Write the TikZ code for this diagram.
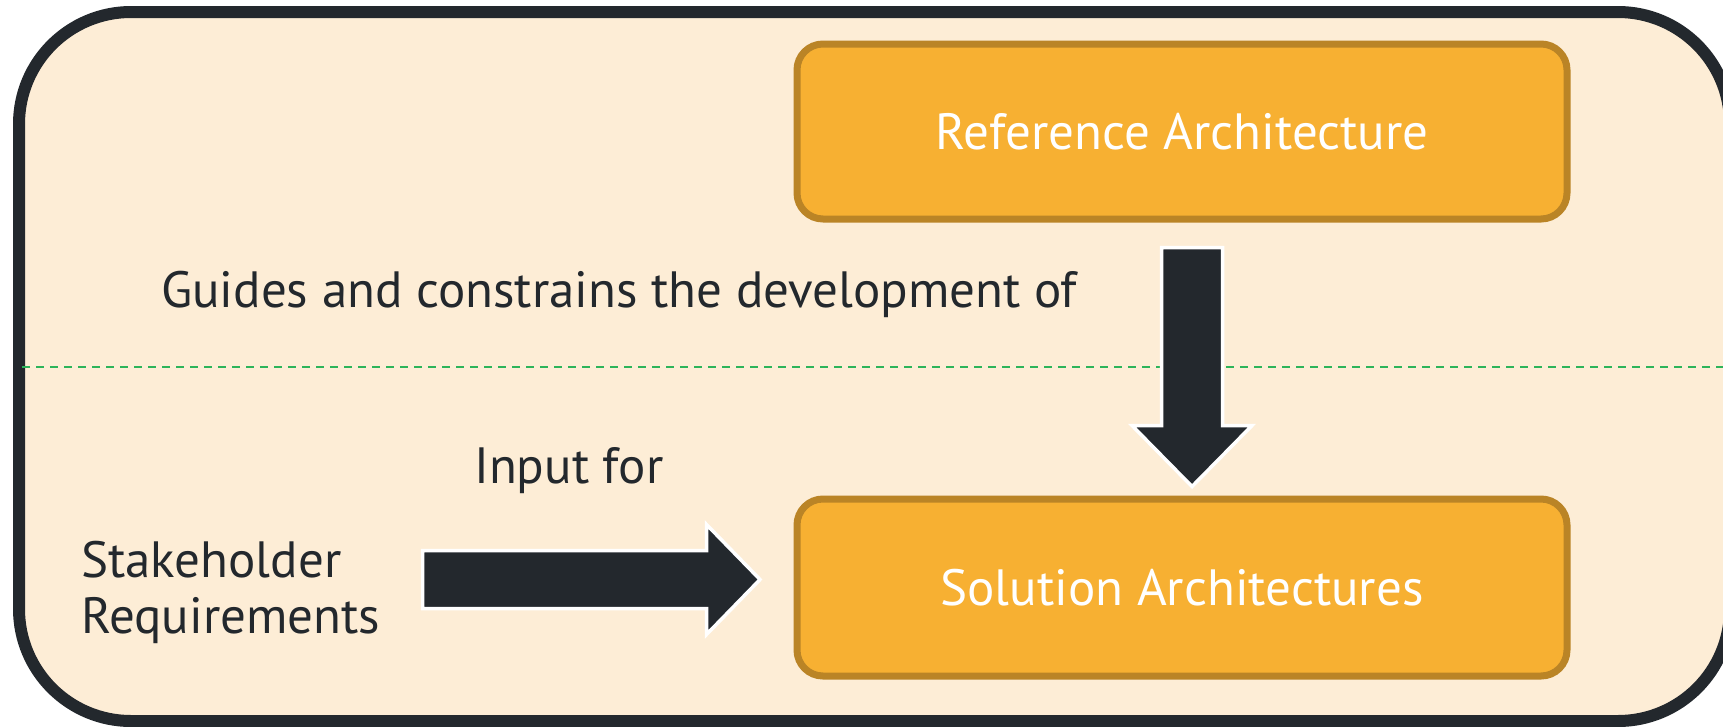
\documentclass[tikz,border=0pt]{standalone}
\usepackage{fontspec}
\setmainfont{PT Sans}
\definecolor{bgfill}{HTML}{FDEDD6}
\definecolor{darkc}{HTML}{23282D}
\definecolor{boxfill}{HTML}{F7B032}
\definecolor{boxdraw}{HTML}{BA8426}
\definecolor{dashgreen}{HTML}{2DB45A}
\tikzset{
  archbox/.style={draw=boxdraw, fill=boxfill, line width=7pt, rounded corners=26pt},
  boxtext/.style={text=white, font=\fontsize{51}{56}\selectfont, inner sep=0pt},
  plaintext/.style={text=darkc, font=\fontsize{51}{56}\selectfont, inner sep=0pt},
  blockarrow/.style={fill=darkc, draw=white, line width=3.5pt, line join=miter},
}
\begin{document}
\begin{tikzpicture}[x=1pt, y=-1pt]
\clip (0,0) rectangle (1723,726);
% outer container
\draw[draw=darkc, fill=bgfill, line width=12pt, rounded corners=112pt] (19,12) rectangle (1730,721);
% dashed separator
\draw[dashgreen, line width=2pt, dash pattern=on 8pt off 6pt] (22,367) -- (1723,367);
% boxes
\draw[archbox] (797,44) rectangle (1567,219);
\draw[archbox] (797,499) rectangle (1567,676);
\node[boxtext] (ref) at (1182,131.5) {Reference Architecture};
\node[boxtext] (sol) at (1182,587.5) {Solution Architectures};
% labels
\node[plaintext, anchor=base west] (guides) at (161,307) {Guides and constrains the development of};
\node[plaintext, anchor=base west] (input) at (474,483) {Input for};
\node[plaintext, anchor=base west, align=left] (stake) at (81,633) {Stakeholder\\Requirements};
% block arrows
\coordinate (downtip) at (1192,486.5);
\coordinate (righttip) at (760,579.5);
\draw[blockarrow] (1161.5,247.5) -- (1222.5,247.5) -- (1222.5,425.5) -- (1252,425.5)
  -- (downtip) -- (1132,425.5) -- (1161.5,425.5) -- cycle;
\draw[blockarrow] (422.5,550.5) -- (706.5,550.5) -- (706.5,524.5) -- (righttip)
  -- (706.5,634.5) -- (706.5,608.5) -- (422.5,608.5) -- cycle;
\end{tikzpicture}
\end{document}
